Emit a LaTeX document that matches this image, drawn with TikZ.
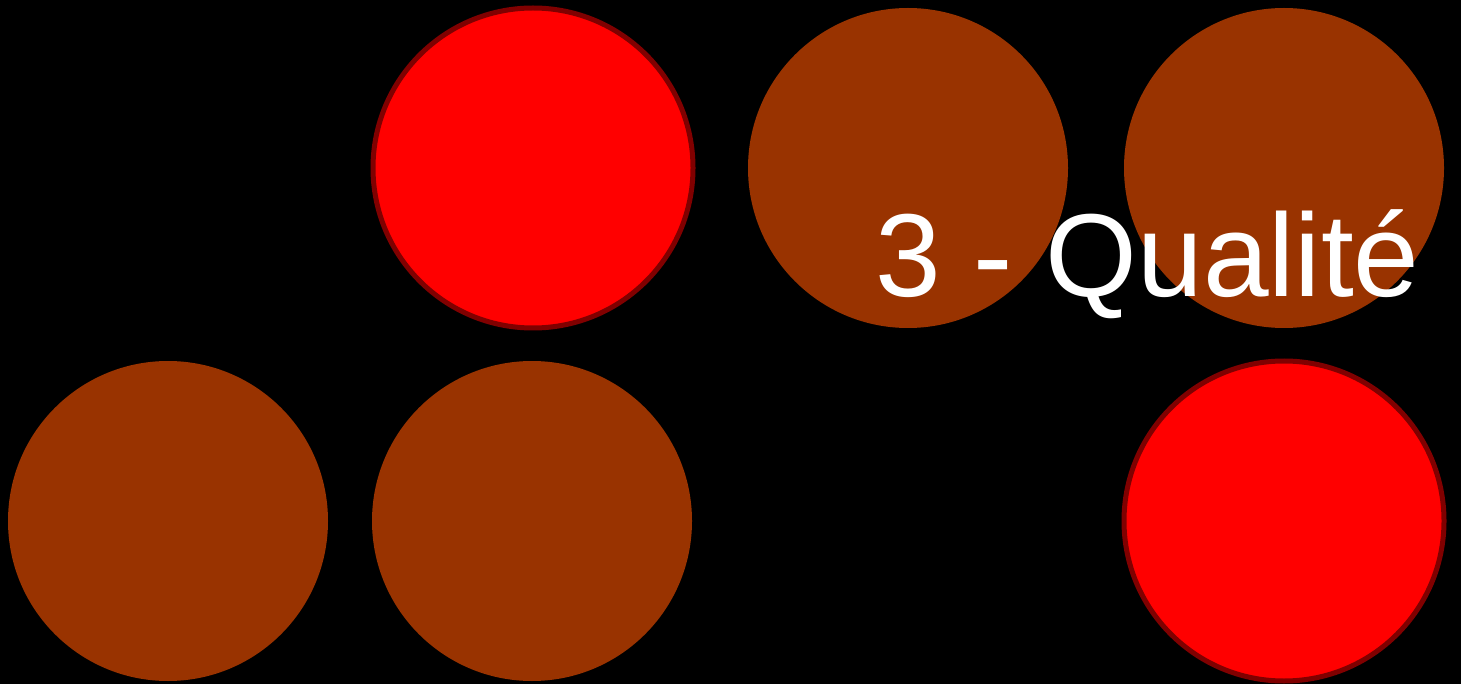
\documentclass[tikz,border=0pt]{standalone}
\usepackage{fontspec}
\setmainfont{Liberation Sans}
\definecolor{brownc}{HTML}{993300}
\definecolor{redc}{HTML}{FF0000}
\definecolor{darkredc}{HTML}{800000}
\begin{document}
\begin{tikzpicture}[x=1pt,y=-1pt,
  browncircle/.style={circle,fill=brownc,draw=none,minimum size=320pt,inner sep=0pt},
  redcircle/.style={circle,fill=redc,draw=darkredc,line width=5pt,minimum size=320pt,inner sep=0pt},
  title/.style={text=white,font=\fontsize{118}{118}\selectfont,anchor=base west,inner sep=0pt}]
\fill[black] (0,0) rectangle (1461,684);
\useasboundingbox (0,0) rectangle (1461,684);
\node[redcircle] (r1) at (533,168) {};
\node[browncircle] (b1) at (908,168) {};
\node[browncircle] (b2) at (1284,168) {};
\node[browncircle] (b3) at (168,521) {};
\node[browncircle] (b4) at (532,521) {};
\node[redcircle] (r2) at (1284,521) {};
\node[title] (t) at (875,297) {3 - Qualité};
\end{tikzpicture}
\end{document}
